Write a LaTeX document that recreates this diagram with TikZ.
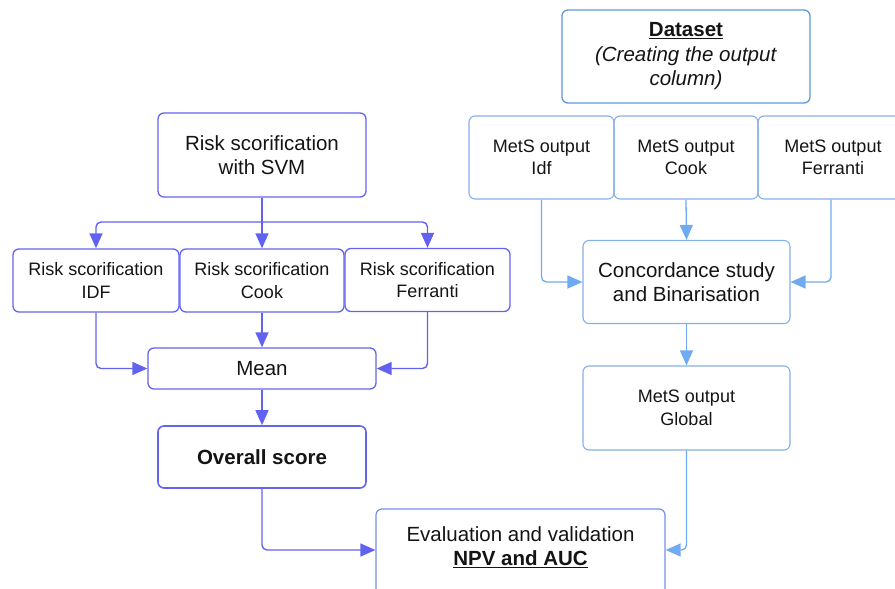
\documentclass[tikz,border=0pt]{standalone}
\usepackage{fontspec}
\setmainfont{Liberation Sans}
\usetikzlibrary{arrows.meta}
\definecolor{violetline}{RGB}{98,98,242}
\definecolor{violetbox}{RGB}{100,100,238}
\definecolor{skyline}{RGB}{112,170,240}
\definecolor{skybox}{RGB}{132,176,230}
\definecolor{datasetbox}{RGB}{96,150,222}
\definecolor{evalbox}{RGB}{118,140,238}
\definecolor{ink}{RGB}{20,20,20}
\tikzset{
  box/.style={draw, rounded corners=6pt, line width=1.3pt, inner sep=0pt,
    align=center, text=ink, font=\fontsize{20.5}{24.5}\selectfont},
  smallbox/.style={box, font=\fontsize{18}{22.5}\selectfont},
  leftbox/.style={draw=violetbox},
  rightbox/.style={draw=skybox, line width=1.1pt},
  leftarrow/.style={draw=violetline, line width=1.4pt, rounded corners=5pt,
    -{Triangle[length=15pt,width=13pt]}},
  rightarrow/.style={draw=skyline, line width=1.3pt, rounded corners=5pt,
    -{Triangle[length=15pt,width=13pt]}}
}
\newcommand{\ul}[1]{\underline{#1}}
\begin{document}
\begin{tikzpicture}[x=1pt,y=-1pt]
\useasboundingbox (0,0) rectangle (895,589);
\clip (0,0) rectangle (895,589);

% left column: scoring chain
\node[box,leftbox,minimum width=208pt,minimum height=84pt] (svm) at (262,155)
  {Risk scorification\\with SVM};
\node[smallbox,leftbox,minimum width=166pt,minimum height=63pt] (idf) at (96,280.5)
  {Risk scorification\\IDF};
\node[smallbox,leftbox,minimum width=164pt,minimum height=63pt] (cook) at (262,280.5)
  {Risk scorification\\Cook};
\node[smallbox,leftbox,minimum width=165pt,minimum height=63pt] (ferr) at (427.5,280)
  {Risk scorification\\Ferranti};
\node[box,leftbox,minimum width=228pt,minimum height=41pt] (mean) at (262,368.5)
  {Mean};
\node[box,leftbox,line width=1.6pt,minimum width=208pt,minimum height=62pt] (overall) at (262,457)
  {\textbf{Overall score}};

% right column: output construction
\node[box,draw=datasetbox,minimum width=248pt,minimum height=93pt] (data) at (686,56.5)
  {\textbf{\ul{Dataset}}\\\textit{(Creating the output}\\\textit{column)}};
\node[smallbox,rightbox,minimum width=145pt,minimum height=83pt] (midf) at (541.5,157.5)
  {MetS output\\Idf};
\node[smallbox,rightbox,minimum width=144pt,minimum height=83pt] (mcook) at (686,157.5)
  {MetS output\\Cook};
\node[smallbox,rightbox,minimum width=150pt,minimum height=83pt] (mferr) at (833,157.5)
  {MetS output\\Ferranti};
\node[box,rightbox,minimum width=207pt,minimum height=83pt] (conc) at (686.5,282)
  {Concordance study\\and Binarisation};
\node[smallbox,rightbox,minimum width=207pt,minimum height=84pt] (glob) at (686.5,408)
  {MetS output\\Global};

% evaluation (box runs past the lower edge)
\node[box,draw=evalbox,line width=1.2pt,minimum width=289pt,minimum height=110pt] (eval) at (520.5,564)
  {};
\node[box,draw=none] (evaltext) at (520.5,547)
  {Evaluation and validation\\\textbf{\ul{NPV and AUC}}};

% connectors, left
\coordinate (split) at (262,222);
\draw[leftarrow] (svm.south) -- (cook.north);
\draw[leftarrow] (split) -| (idf.north);
\draw[leftarrow] (split) -| (ferr.north);
\draw[leftarrow] (cook.south) -- (mean.north);
\draw[leftarrow] (idf.south) |- (mean.west);
\draw[leftarrow] (ferr.south) |- (mean.east);
\draw[leftarrow] (mean.south) -- (overall.north);
\draw[leftarrow] (overall.south) |- (eval.west |- 0,550);

% connectors, right
\draw[rightarrow] (mcook.south) -- (conc.north);
\draw[rightarrow] (midf.south) |- (conc.west);
\draw[rightarrow] (mferr.south -| 831,0) |- (conc.east);
\draw[rightarrow] (conc.south) -- (glob.north);
\draw[rightarrow] (glob.south) |- (eval.east |- 0,550);
\end{tikzpicture}
\end{document}
